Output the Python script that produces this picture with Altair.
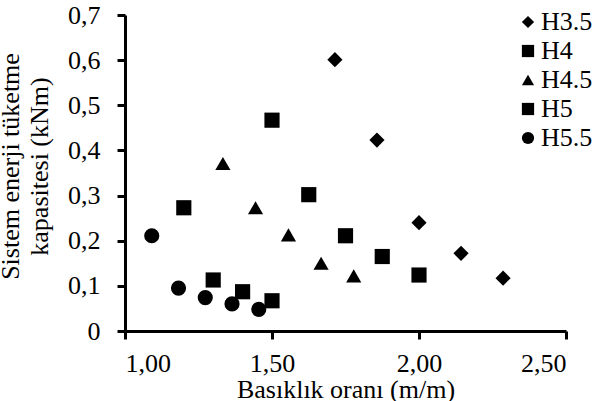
import altair as alt
import pandas as pd

series = ["H3.5", "H4", "H4.5", "H5", "H5.5"]
shapes = ["diamond", "square", "triangle-up", "square", "circle"]

h35_x = [1.714, 1.857, 2.000, 2.143, 2.286]
h35_y = [0.601, 0.423, 0.240, 0.172, 0.117]
h4_x = [1.500, 1.625, 1.750, 1.875, 2.000]
h4_y = [0.467, 0.302, 0.211, 0.165, 0.124]
h45_x = [1.333, 1.444, 1.556, 1.667, 1.778]
h45_y = [0.371, 0.273, 0.213, 0.150, 0.122]
h5_x = [1.200, 1.300, 1.400, 1.500]
h5_y = [0.273, 0.113, 0.087, 0.067]
h55_x = [1.091, 1.182, 1.273, 1.364, 1.455]
h55_y = [0.211, 0.095, 0.074, 0.060, 0.048]

x_ticks = [1.0, 1.5, 2.0, 2.5]
y_ticks = [0.0, 0.1, 0.2, 0.3, 0.4, 0.5, 0.6, 0.7]

rows = []
for name, xs, ys in [("H3.5", h35_x, h35_y), ("H4", h4_x, h4_y), ("H4.5", h45_x, h45_y),
                     ("H5", h5_x, h5_y), ("H5.5", h55_x, h55_y)]:
    for xv, yv in zip(xs, ys):
        rows.append({"seri": name, "x": xv, "y": yv})
df = pd.DataFrame(rows)

FONT = "Liberation Serif"
FS = 26
axis_style = dict(
    grid=False, domainColor="black", domainWidth=3, tickColor="black", tickWidth=3, tickSize=8,
    labelFont=FONT, labelFontSize=FS, labelColor="black",
    titleFont=FONT, titleFontSize=FS, titleColor="black", titleFontWeight="normal",
)

chart = alt.Chart(df).mark_point(filled=True, color="black", opacity=1, size=230).encode(
    x=alt.X("x:Q", scale=alt.Scale(domain=[1.0, 2.5], nice=False, zero=False),
            axis=alt.Axis(values=x_ticks, title="Basıklık oranı (m/m)",
                          labelExpr="replace(format(datum.value, '.2f'), '.', ',')",
                          labelPadding=11, titlePadding=0, **axis_style)),
    y=alt.Y("y:Q", scale=alt.Scale(domain=[0, 0.7], nice=False),
            axis=alt.Axis(values=y_ticks, title=["Sistem enerji tüketme", "kapasitesi (kNm)"],
                          labelExpr="datum.value == 0 ? '0' : replace(format(datum.value, '.1f'), '.', ',')",
                          labelPadding=17, titlePadding=15, titleLineHeight=29, titleY=151,
                          **axis_style)),
    shape=alt.Shape("seri:N", scale=alt.Scale(domain=series, range=shapes),
                    legend=alt.Legend(title=None, orient="none", legendX=390, legendY=-6,
                                      symbolSize=150, symbolFillColor="black", symbolStrokeColor="black",
                                      labelFontSize=FS, labelFont=FONT, labelColor="black",
                                      labelOffset=0, rowPadding=3, padding=0)),
).properties(
    width=441, height=316,
    autosize=alt.AutoSizeParams(type="none"),
    padding={"left": 125, "top": 15, "right": 33, "bottom": 70},
    background="white",
).configure_view(stroke=None)

chart.save("out.html", embed_options={"renderer": "svg", "actions": False})
